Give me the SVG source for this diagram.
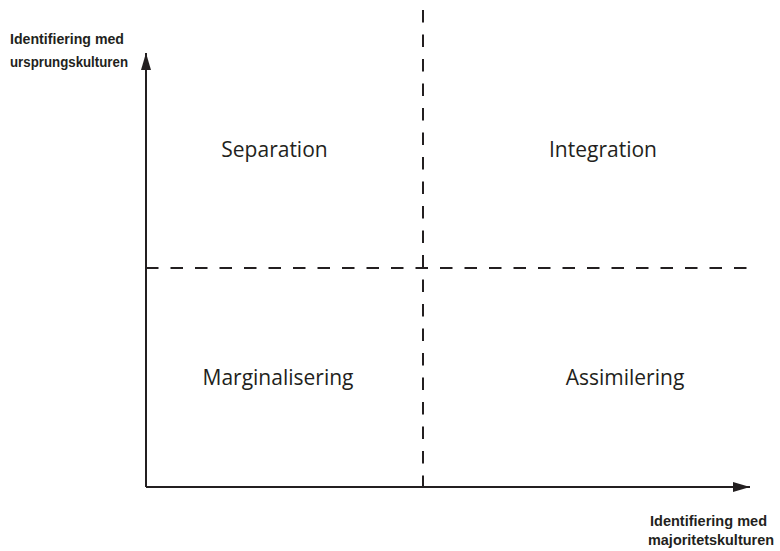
<svg xmlns="http://www.w3.org/2000/svg" width="780" height="551" viewBox="0 0 780 551">
  <style>
    .axis { stroke: #231f20; stroke-width: 2; fill: none; }
    .dash { stroke: #231f20; stroke-width: 2; fill: none; stroke-dasharray: 12.5 12; }
    .quad { font-family: "Open Sans", "Liberation Sans", sans-serif; font-size: 21px; fill: #231f20; text-anchor: middle; }
    .axlabel { font-family: "Liberation Sans", "DejaVu Sans", sans-serif; font-size: 15px; font-weight: bold; fill: #231f20; }
  </style>
  <defs>
    <marker id="arrow" markerUnits="userSpaceOnUse" markerWidth="18" markerHeight="10" refX="17" refY="5" orient="auto">
      <path d="M0,0 L17,5 L0,10 Z" fill="#231f20"/>
    </marker>
  </defs>
  <rect width="780" height="551" fill="#ffffff"/>
  <g id="connectors">
    <line class="dash" x1="423" y1="10" x2="423" y2="487"/>
    <line class="dash" x1="146" y1="268" x2="747" y2="268"/>
    <line class="axis" x1="146" y1="487" x2="146" y2="53" marker-end="url(#arrow)"/>
    <line class="axis" x1="146" y1="487" x2="750" y2="487" marker-end="url(#arrow)"/>
  </g>
  <g id="y-axis-label">
    <text class="axlabel" x="10" y="44" textLength="114" lengthAdjust="spacingAndGlyphs">Identifiering med</text>
    <text class="axlabel" x="10" y="67" textLength="118" lengthAdjust="spacingAndGlyphs">ursprungskulturen</text>
  </g>
  <g id="x-axis-label">
    <text class="axlabel" x="650" y="526" textLength="117" lengthAdjust="spacingAndGlyphs">Identifiering med</text>
    <text class="axlabel" x="648" y="545" textLength="126" lengthAdjust="spacingAndGlyphs">majoritetskulturen</text>
  </g>
  <g id="separation"><text class="quad" x="274.5" y="157">Separation</text></g>
  <g id="integration"><text class="quad" x="603" y="157">Integration</text></g>
  <g id="marginalisering"><text class="quad" x="278" y="385">Marginalisering</text></g>
  <g id="assimilering"><text class="quad" x="625" y="385">Assimilering</text></g>
</svg>
